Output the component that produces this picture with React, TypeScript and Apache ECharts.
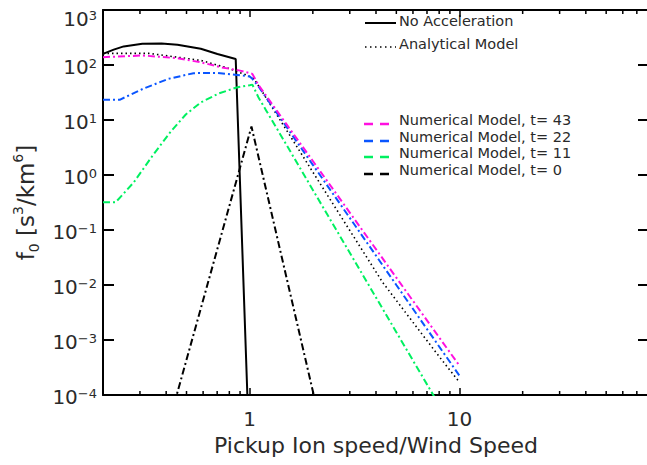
import React, { useEffect, useRef } from 'react';
import * as echarts from 'echarts';

// Axis ranges and tick values
const X_RANGE = [0.2, 80];
const Y_RANGE = [1e-4, 1e3];
const MINOR_X_TICKS = [0.3, 0.4, 0.5, 0.6, 0.7, 0.8, 0.9, 2, 3, 4, 5, 6, 7, 8, 9, 20, 30, 40, 50, 60, 70];

// No Acceleration (solid black)
const X_NOACC = [0.2, 0.225, 0.251, 0.308, 0.38, 0.453, 0.585, 0.702, 0.858, 0.975, 1.0];
const Y_NOACC = [159, 190, 218, 243, 245, 233, 197, 159, 129, 1e-4, 6e-6];

// Analytical Model (dotted black)
const X_ANALYTIC = [0.2, 0.33, 0.45, 0.585, 0.78, 0.975, 1.05, 1.2, 1.5, 2, 3, 4.3, 6, 8, 10];
const Y_ANALYTIC = [163, 163, 139, 121, 89, 65, 56, 25, 6.5, 1.13, 0.098, 0.0112, 2.1e-3, 5e-4, 1.7e-4];

// Numerical Model t=43 (magenta)
const X_T43 = [0.2, 0.31, 0.45, 0.585, 0.73, 0.9, 1.03, 1.1, 1.2, 1.5, 2, 3, 5, 7, 10];
const Y_T43 = [139, 149, 133, 112, 91, 79, 69, 43.6, 27.4, 8.3, 1.8, 0.207, 0.0136, 2.27e-3, 3.4e-4];

// Numerical Model t=22 (blue)
const X_T22 = [0.2, 0.24, 0.31, 0.41, 0.54, 0.7, 0.87, 1.0, 1.03, 1.1, 1.2, 1.5, 2, 3, 5, 7, 10];
const Y_T22 = [23.3, 23.3, 36.9, 56, 71, 72, 66, 62, 56, 41, 25.4, 7.45, 1.53, 0.166, 0.01, 1.58e-3, 2.24e-4];

// Numerical Model t=11 (green)
const X_T11 = [0.2, 0.23, 0.28, 0.345, 0.421, 0.496, 0.584, 0.711, 0.867, 1.0, 1.03, 1.1, 1.2, 1.5, 2, 3, 5, 7, 10];
const Y_T11 = [0.32, 0.32, 0.73, 2.26, 6.18, 12.6, 20.8, 30.3, 39, 43, 44, 26, 14.8, 3.5, 0.536, 0.0385, 1.39e-3, 1.56e-4, 1.55e-5];

// Numerical Model t=0 (black dash-dot)
const X_T0 = [0.4, 0.449, 1.02, 2.02, 2.2];
const Y_T0 = [2.1e-5, 1e-4, 7.6, 1e-4, 2.5e-5];

const LEGEND_TOP = ['No Acceleration', 'Analytical Model'];
const LEGEND_NUM = ['Numerical Model, t= 43', 'Numerical Model, t= 22', 'Numerical Model, t= 11', 'Numerical Model, t= 0'];

const FONT = 'DejaVu Sans';
const TXT = '#2a2a2a';
const MAGENTA = '#ff10e0';
const BLUE = '#0a55ff';
const GREEN = '#00f060';
const BLACK = '#000';

const pairs = (xs: number[], ys: number[]) => xs.map((x, i) => [x, ys[i]]);

export default function App() {
  const ref = useRef<HTMLDivElement>(null);

  useEffect(() => {
    if (!ref.current) return;
    const chart = echarts.init(ref.current, undefined, { renderer: 'svg' });

    const isDecade = (v: number) => {
      const l = Math.log10(v);
      return Math.abs(l - Math.round(l)) < 1e-6;
    };

    const dashDot = [7, 3, 2, 3];

    const numLine = (name: string, xs: number[], ys: number[], color: string) => ({
      name,
      type: 'line',
      data: pairs(xs, ys),
      showSymbol: false,
      symbol: 'none',
      clip: true,
      lineStyle: { color, width: 2, type: dashDot },
      z: 3,
    });

    const legendColors = [MAGENTA, BLUE, GREEN, BLACK];
    const legendYs = [124, 141, 157, 174];
    const legendText = (text: string, x: number, y: number) => ({
      type: 'text', x, y,
      style: { text, fontSize: 14.5, lineHeight: 15, fontFamily: FONT, fill: TXT, verticalAlign: 'middle', align: 'left' },
    });

    const graphics: any[] = [
      { type: 'line', shape: { x1: 365, y1: 23, x2: 396, y2: 23 }, style: { stroke: BLACK, lineWidth: 2 } },
      legendText(LEGEND_TOP[0], 399, 21),
      { type: 'line', shape: { x1: 365, y1: 47, x2: 396, y2: 47 }, style: { stroke: BLACK, lineWidth: 1.5, lineDash: [1.5, 3.5] } },
      legendText(LEGEND_TOP[1], 399, 44),
    ];
    LEGEND_NUM.forEach((t, i) => {
      graphics.push({ type: 'line', shape: { x1: 364, y1: legendYs[i], x2: 389, y2: legendYs[i] }, style: { stroke: legendColors[i], lineWidth: 2.5, lineDash: [9, 7] } });
      graphics.push(legendText(t, 399, legendYs[i] - 4));
    });

    const axisLineStyle = { color: BLACK, width: 2 };

    chart.setOption({
      animation: false,
      grid: { left: 103, top: 10, width: 546, height: 385, containLabel: false, outerBoundsMode: 'none' },
      xAxis: [
        {
          type: 'log', logBase: 10, min: X_RANGE[0], max: X_RANGE[1], position: 'bottom',
          axisLine: { show: true, lineStyle: axisLineStyle },
          axisTick: { show: true, inside: true, length: 7, lineStyle: { color: BLACK, width: 1.5 } },
          splitLine: { show: false },
          axisLabel: {
            margin: 14, fontSize: 20, fontFamily: FONT, color: TXT,
            formatter: (v: number) => (isDecade(v) ? String(Math.round(v)) : ''),
          },
          name: 'Pickup Ion speed/Wind Speed', nameLocation: 'middle', nameGap: 39,
          nameTextStyle: { fontSize: 22, fontFamily: FONT, color: TXT },
        },
        {
          type: 'log', logBase: 10, min: X_RANGE[0], max: X_RANGE[1], position: 'top',
          axisLine: { show: true, lineStyle: axisLineStyle },
          axisTick: { show: true, inside: true, length: 7, lineStyle: { color: BLACK, width: 1.5 } },
          splitLine: { show: false },
          axisLabel: { show: false },
        },
      ],
      yAxis: [
        {
          type: 'log', logBase: 10, min: Y_RANGE[0], max: Y_RANGE[1], position: 'left',
          axisLine: { show: true, lineStyle: axisLineStyle },
          axisTick: { show: true, inside: true, length: 11, lineStyle: { color: BLACK, width: 2 } },
          splitLine: { show: false },
          axisLabel: {
            margin: 6,
            formatter: (v: number) => {
              const e = Math.round(Math.log10(v));
              const es = e < 0 ? '\u2212' + (-e) : String(e);
              return e === 3 ? `{gap| }\n{b|10}{s|${es}}` : `{b|10}{s|${es}}`;
            },
            rich: {
              gap: { fontSize: 10, lineHeight: 14, fontFamily: FONT, color: TXT },
              b: { fontSize: 20, lineHeight: 26, padding: [4, 0, 0, 0], fontFamily: FONT, color: TXT },
              s: { fontSize: 13, lineHeight: 13, padding: [5, 0, 0, 0], verticalAlign: 'top', fontFamily: FONT, color: TXT },
            },
          },
          name: '{t|f}{sub|0}{t| [s}{sup|3}{t|/km}{sup|6}{t|]}',
          nameLocation: 'middle', nameRotate: 90, nameGap: 57,
          nameTextStyle: {
            rich: {
              t: { fontSize: 23, lineHeight: 30, fontFamily: FONT, color: TXT },
              sub: { fontSize: 14, lineHeight: 16, verticalAlign: 'bottom', fontFamily: FONT, color: TXT },
              sup: { fontSize: 14, lineHeight: 14, verticalAlign: 'top', fontFamily: FONT, color: TXT },
            },
          },
        },
        {
          type: 'log', logBase: 10, min: Y_RANGE[0], max: Y_RANGE[1], position: 'right',
          axisLine: { show: true, lineStyle: axisLineStyle },
          axisTick: { show: true, inside: true, length: 11, lineStyle: { color: BLACK, width: 2 } },
          splitLine: { show: false },
          axisLabel: { show: false },
        },
      ],
      series: [
        {
          name: LEGEND_TOP[0], type: 'line', data: pairs(X_NOACC, Y_NOACC), showSymbol: false, symbol: 'none', clip: true,
          lineStyle: { color: BLACK, width: 2 }, z: 2,
        },
        {
          name: LEGEND_TOP[1], type: 'line', data: pairs(X_ANALYTIC, Y_ANALYTIC), showSymbol: false, symbol: 'none', clip: true,
          lineStyle: { color: BLACK, width: 1.6, type: [1.5, 3] }, z: 2,
        },
        numLine(LEGEND_NUM[3], X_T0, Y_T0, BLACK),
        numLine(LEGEND_NUM[2], X_T11, Y_T11, GREEN),
        numLine(LEGEND_NUM[1], X_T22, Y_T22, BLUE),
        numLine(LEGEND_NUM[0], X_T43, Y_T43, MAGENTA),
        {
          name: 'minorTicks', type: 'custom', data: MINOR_X_TICKS.map((v) => [v, 1]), clip: false, silent: true, z: 5,
          renderItem: (_params: any, api: any) => {
            const x = api.value(0);
            const pb = api.coord([x, Y_RANGE[0]]);
            const pt = api.coord([x, Y_RANGE[1]]);
            const len = 4;
            return {
              type: 'group',
              children: [
                { type: 'line', shape: { x1: pb[0], y1: pb[1], x2: pb[0], y2: pb[1] - len }, style: { stroke: BLACK, lineWidth: 1.5 } },
                { type: 'line', shape: { x1: pt[0], y1: pt[1], x2: pt[0], y2: pt[1] + len }, style: { stroke: BLACK, lineWidth: 1.5 } },
              ],
            };
          },
        },
      ],
      graphic: graphics,
    });

    return () => chart.dispose();
  }, []);

  return (
    <div
      ref={ref}
      style={{ position: 'fixed', left: 0, top: 0, width: 647, height: 465, background: '#fff' }}
    />
  );
}
